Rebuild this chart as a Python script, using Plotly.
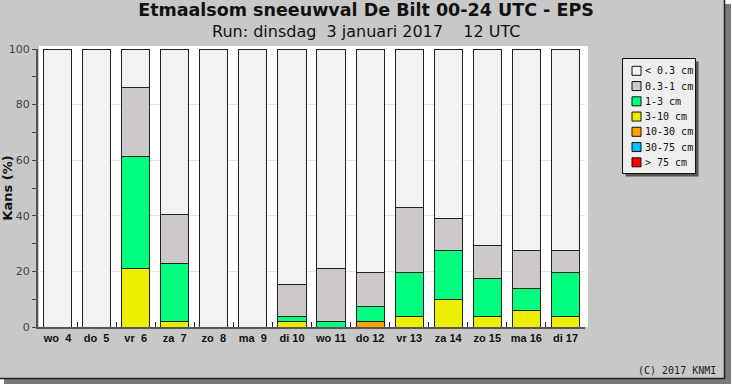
import plotly.graph_objects as go

# ---------------- data ----------------
days = ["wo\u00a0\u00a04", "do\u00a0\u00a05", "vr\u00a0\u00a06", "za\u00a0\u00a07", "zo\u00a0\u00a08",
        "ma\u00a0\u00a09", "di 10", "wo 11", "do 12", "vr 13", "za 14", "zo 15", "ma 16", "di 17"]

classes = ["< 0.3 cm", "0.3-1 cm", "1-3 cm", "3-10 cm", "10-30 cm", "30-75 cm", "> 75 cm"]

p_lt03  = [100, 100, 13.7, 59.5, 100, 100, 84.7, 79.0, 80.5, 56.9, 60.8, 70.6, 72.6, 72.6]
p_03_1  = [0, 0, 24.8, 17.5, 0, 0, 11.5, 19.0, 12.0, 23.5, 11.8, 11.8, 13.7, 7.8]
p_1_3   = [0, 0, 40.5, 21.0, 0, 0, 1.8, 2.0, 5.5, 15.7, 17.6, 13.7, 7.8, 15.7]
p_3_10  = [0, 0, 21.0, 2.0, 0, 0, 2.0, 0, 0, 3.9, 9.8, 3.9, 5.9, 3.9]
p_10_30 = [0, 0, 0, 0, 0, 0, 0, 0, 2.0, 0, 0, 0, 0, 0]
p_30_75 = [0, 0, 0, 0, 0, 0, 0, 0, 0, 0, 0, 0, 0, 0]
p_gt75  = [0, 0, 0, 0, 0, 0, 0, 0, 0, 0, 0, 0, 0, 0]

series = [p_lt03, p_03_1, p_1_3, p_3_10, p_10_30, p_30_75, p_gt75]
colors = ["#f2f2f2", "#cdc9c9", "#00ff7f", "#eeee00", "#ffa500", "#00bfff", "#ff0000"]

yticks = [0, 20, 40, 60, 80, 100]

title = "Etmaalsom sneeuwval De Bilt 00-24 UTC - EPS"
subtitle = "Run: dinsdag\u00a0 3 januari 2017\u00a0\u00a0\u00a0 12 UTC"
copyright_txt = "(C) 2017 KNMI"
ytitle = "Kans (%)"

# ---------------- geometry helpers ----------------
W, H = 732, 385
ML, MR, MT, MB = 38, 147, 49, 58
PW, PH = W - ML - MR, H - MT - MB


def px(x):
    return (x - ML) / PW


def py(y):
    return (H - MB - y) / PH


fig = go.Figure()

# stacked bars: bottom class first
for name, vals, col in reversed(list(zip(classes, series, colors))):
    fig.add_trace(go.Bar(
        x=days, y=vals, name=name,
        marker=dict(color=col, line=dict(color="#222222", width=1)),
        showlegend=False,
    ))

shapes = []
# drop shadow + gray panel
shapes.append(dict(type="rect", xref="paper", yref="paper", layer="below",
                   x0=px(4), x1=px(731), y0=py(384), y1=py(4),
                   fillcolor="#7a7a7a", line=dict(width=0)))
shapes.append(dict(type="rect", xref="paper", yref="paper", layer="below",
                   x0=px(-5), x1=px(724.5), y0=py(378.5), y1=py(-5),
                   fillcolor="#c8c8c8", line=dict(color="#222222", width=1.5)))
# white plot area
shapes.append(dict(type="rect", xref="paper", yref="paper", layer="below",
                   x0=px(39), x1=px(588), y0=py(327), y1=py(46),
                   fillcolor="#ffffff", line=dict(width=0)))

# manual legend box
lx0, lx1, ly0, ly1 = 622.5, 695.5, 58.5, 173.5
shapes.append(dict(type="rect", xref="paper", yref="paper",
                   x0=px(lx0 + 3), x1=px(lx1 + 3), y0=py(ly1 + 3), y1=py(ly0 + 3),
                   fillcolor="#555555", line=dict(width=0)))
shapes.append(dict(type="rect", xref="paper", yref="paper",
                   x0=px(lx0), x1=px(lx1), y0=py(ly1), y1=py(ly0),
                   fillcolor="#eeeeee", line=dict(color="#111111", width=1)))

annotations = []
row0, drow = 70.8, 15.25
for i, (name, col) in enumerate(zip(classes, colors)):
    cy = row0 + i * drow
    shapes.append(dict(type="rect", xref="paper", yref="paper",
                       x0=px(632), x1=px(641), y0=py(cy + 4.5), y1=py(cy - 4.5),
                       fillcolor=col, line=dict(color="#111111", width=1)))
    annotations.append(dict(xref="paper", yref="paper", x=px(642.5), y=py(cy),
                            xanchor="left", yanchor="middle", showarrow=False,
                            text=name, font=dict(family="DejaVu Sans Mono", size=10, color="#111111")))

annotations.append(dict(xref="paper", yref="paper", x=px(366), y=py(31.5),
                        xanchor="center", yanchor="middle", showarrow=False,
                        text=subtitle, font=dict(family="DejaVu Sans", size=16, color="#111111")))
annotations.append(dict(xref="paper", yref="paper", x=px(718), y=py(370),
                        xanchor="right", yanchor="middle", showarrow=False,
                        text=copyright_txt, font=dict(family="DejaVu Sans Mono", size=10, color="#222222")))

fig.update_layout(
    width=W, height=H,
    margin=dict(l=ML, r=MR, t=MT, b=MB, autoexpand=False),
    paper_bgcolor="#ffffff",
    plot_bgcolor="rgba(0,0,0,0)",
    barmode="stack",
    bargap=0.28,
    showlegend=False,
    title=dict(text=title, x=366 / W, xanchor="center", y=1 - 10 / H, yanchor="middle",
               font=dict(family="DejaVu Sans", size=17.5, color="#111111", weight="bold")),
    shapes=shapes,
    annotations=annotations,
    xaxis=dict(
        type="category", tickson="boundaries", ticks="inside", ticklen=5,
        tickcolor="#222222", tickwidth=1, tickangle=0,
        showline=True, linecolor="#555555", linewidth=2,
        showgrid=False, automargin=False,
        tickfont=dict(family="Liberation Sans", size=11, color="#111111", weight="bold"),
    ),
    yaxis=dict(
        range=[0, 100], tickvals=yticks, ticks="outside", ticklen=4, tickcolor="#444444",
        minor=dict(dtick=10, ticks="outside", ticklen=4, tickcolor="#444444", showgrid=False),
        showline=True, linecolor="#555555", linewidth=2,
        showgrid=True, gridcolor="#e4e4e4", gridwidth=1, zeroline=False,
        automargin=False,
        tickfont=dict(family="DejaVu Sans", size=11, color="#444444"),
        title=dict(text=ytitle, standoff=4,
                   font=dict(family="DejaVu Sans", size=13, color="#111111", weight="bold")),
    ),
)

fig.write_html("out.html", config={"displayModeBar": False},
               post_script="document.body.style.margin='0';")
